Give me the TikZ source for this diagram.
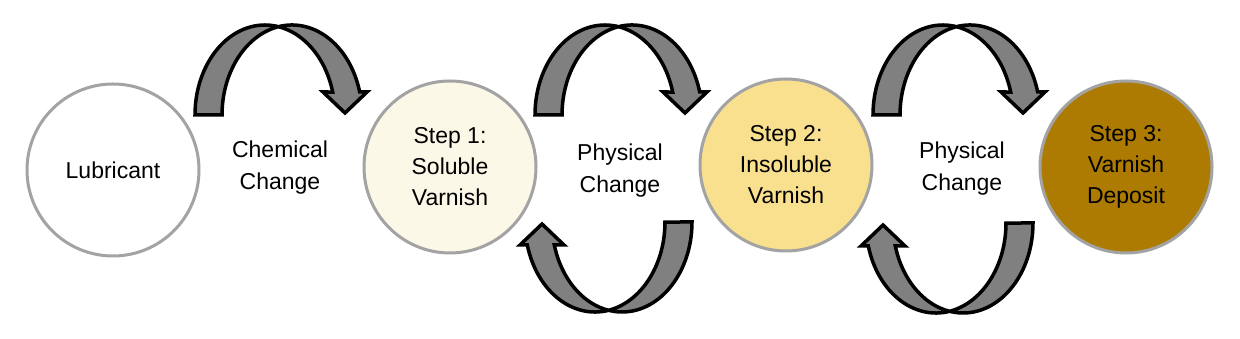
\documentclass[tikz,border=0pt]{standalone}
\usepackage{fontspec}
\setmainfont{Liberation Sans}
\definecolor{ringgray}{HTML}{A3A3A3}
\definecolor{arrowgray}{HTML}{808080}
\definecolor{stepone}{HTML}{FCF8E8}
\definecolor{steptwo}{HTML}{F8E08F}
\definecolor{stepthree}{HTML}{AD7B02}
\tikzset{
  stage/.style={circle, draw=ringgray, line width=3pt, minimum size=172pt, inner sep=0pt,
    align=center, font=\fontsize{23}{31}\selectfont},
  lbl/.style={align=center, font=\fontsize{23}{32}\selectfont},
  curvarrow/.pic={
    \filldraw[fill=arrowgray, draw=black, line width=3.5pt, line join=miter, miter limit=4]
      (0,0) arc[start angle=180, end angle=14.8, x radius=70, y radius=90]
      -- (128,23) -- (150,2) -- (172,23) -- (164.7,23)
      arc[start angle=14.8, end angle=180, x radius=70, y radius=90]
      -- cycle;
  }
}
\begin{document}
\begin{tikzpicture}[x=1pt, y=1pt]
\useasboundingbox (0,0) rectangle (1240,339);
\fill[white] (0,0) rectangle (1240,339);
% circles
\node[stage, fill=white] (lub) at (113,169) {Lubricant};
\node[stage, fill=stepone] (s1) at (450,172) {Step 1:\\Soluble\\Varnish};
\node[stage, fill=steptwo] (s2) at (786,174) {Step 2:\\Insoluble\\Varnish};
\node[stage, fill=stepthree] (s3) at (1126,172) {Step 3:\\Varnish\\Deposit};
% labels
\node[lbl] (c1) at (280,171) {Chemical\\Change};
\node[lbl] (p1) at (620,168) {Physical\\Change};
\node[lbl] (p2) at (962,170) {Physical\\Change};
% arrows
\pic at (195,224) {curvarrow};
\pic at (535,224) {curvarrow};
\pic at (873,224) {curvarrow};
\pic[rotate=180] at (692,117) {curvarrow};
\pic[rotate=180] at (1033,116) {curvarrow};
\end{tikzpicture}
\end{document}
